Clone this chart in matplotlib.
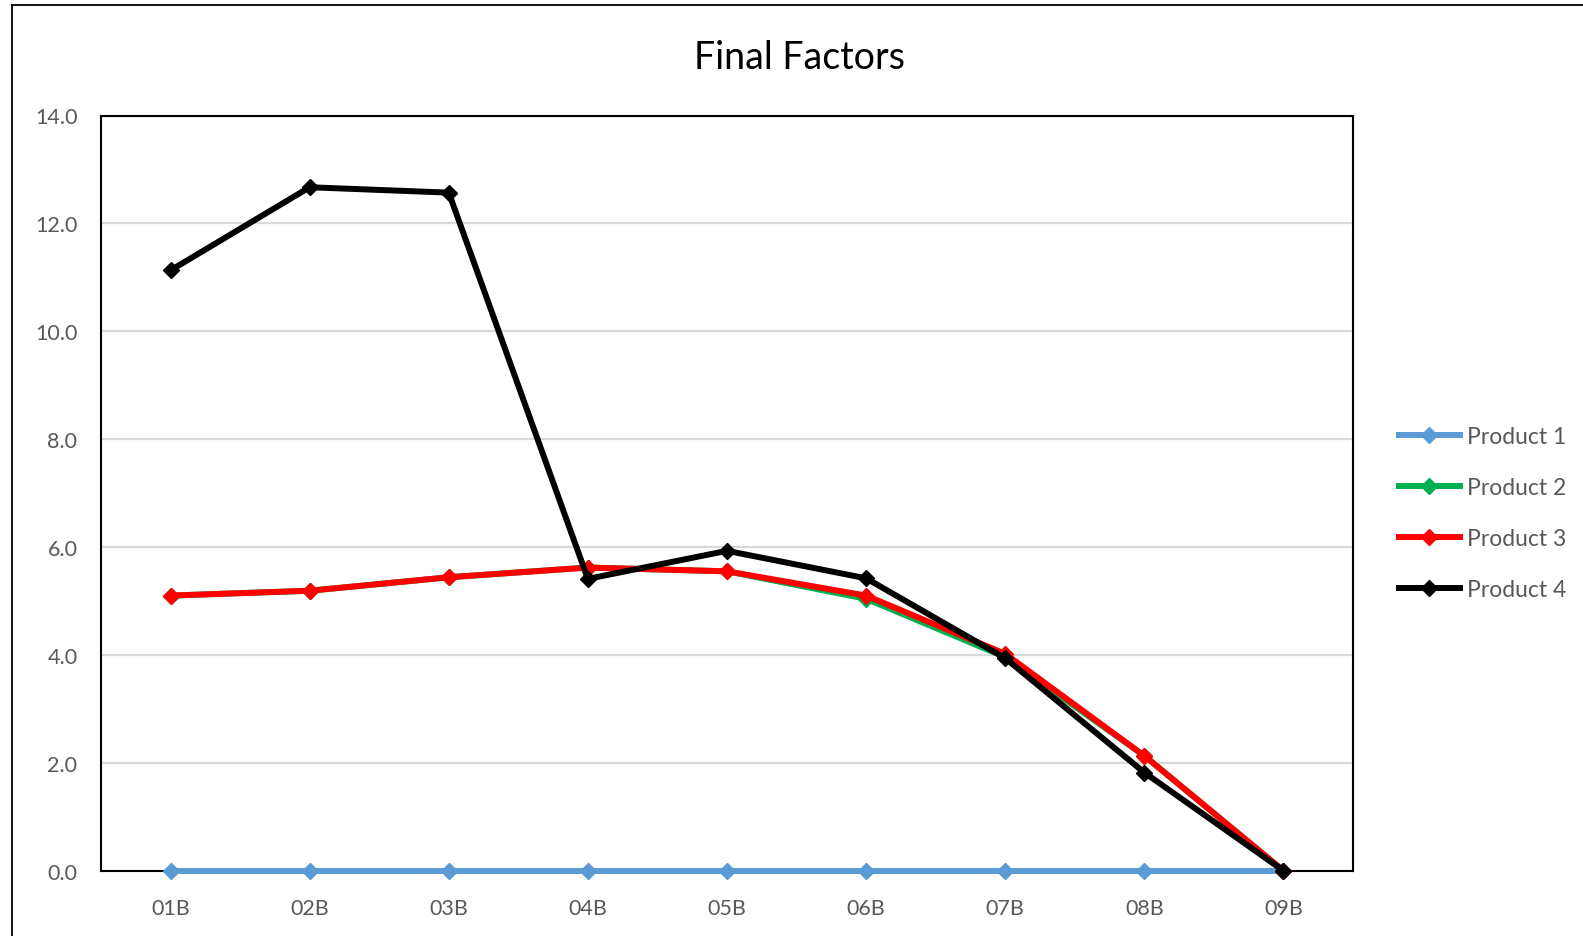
# -*- coding: utf-8 -*-

"""
Final Factors line chart
"""

import matplotlib
matplotlib.use("Agg")
import matplotlib.pyplot as plt
from matplotlib.lines import Line2D

categories = ["01B", "02B", "03B", "04B", "05B", "06B", "07B", "08B", "09B"]
product_1 = [0.0, 0.0, 0.0, 0.0, 0.0, 0.0, 0.0, 0.0, 0.0]
product_2 = [5.10, 5.19, 5.44, 5.62, 5.55, 5.04, 3.96, 2.13, 0.0]
product_3 = [5.10, 5.19, 5.44, 5.62, 5.55, 5.10, 4.02, 2.13, 0.0]
product_4 = [11.13, 12.67, 12.57, 5.41, 5.93, 5.42, 3.94, 1.82, 0.0]
y_ticks = [0, 2, 4, 6, 8, 10, 12, 14]

series = [
    ("Product 1", product_1, "#5B9BD5"),
    ("Product 2", product_2, "#00B050"),
    ("Product 3", product_3, "#FF0000"),
    ("Product 4", product_4, "#000000"),
]

W, H = 1583, 937
plt.rcParams["font.family"] = ["Lato", "DejaVu Sans"]
fig = plt.figure(figsize=(W / 100, H / 100), dpi=100)
ax = fig.add_axes([101 / W, 1 - 871.7 / H, (1353 - 101) / W, (871.7 - 116.5) / H])

x = range(len(categories))
for i, (name, vals, color) in enumerate(series):
    ax.plot(x, vals, color=color, lw=4.3, marker="D", markersize=8.5,
            markeredgecolor=color, label=name, clip_on=False, zorder=3 + i)

ax.set_xlim(-0.5, len(categories) - 0.5)
ax.set_ylim(0, 14)
ax.set_xticks(list(x))
ax.set_xticklabels(categories)
ax.set_yticks(y_ticks)
ax.set_yticklabels([f"{v:.1f}" for v in y_ticks])
ax.tick_params(length=0, labelsize=15.5, labelcolor="#595959")
ax.tick_params(axis="y", pad=17)
ax.tick_params(axis="x", pad=20)
ax.grid(axis="y", color="#D9D9D9", lw=1.6)
ax.set_axisbelow(True)
for s in ax.spines.values():
    s.set_color("black")
    s.set_linewidth(1.5)
    s.set_zorder(2)

fig.text(800 / W, 1 - 58 / H, "Final Factors", ha="center", va="center",
         fontsize=27, color="black")

leg = ax.legend(loc="center left", bbox_to_anchor=(1399 / W, 1 - 514 / H),
                bbox_transform=fig.transFigure, frameon=False, fontsize=16.5,
                handlelength=2.65, handletextpad=0.3, labelspacing=1.32,
                borderpad=0, borderaxespad=0)
for t in leg.get_texts():
    t.set_color("#595959")

# outer chart frame (cropped at right and bottom)
fig.add_artist(Line2D([12 / W, 12 / W], [0, 1 - 6 / H], transform=fig.transFigure,
                      color="black", lw=1.3))
fig.add_artist(Line2D([12 / W, 1], [1 - 6 / H, 1 - 6 / H], transform=fig.transFigure,
                      color="black", lw=1.3))

fig.savefig("out.png", dpi=100)
